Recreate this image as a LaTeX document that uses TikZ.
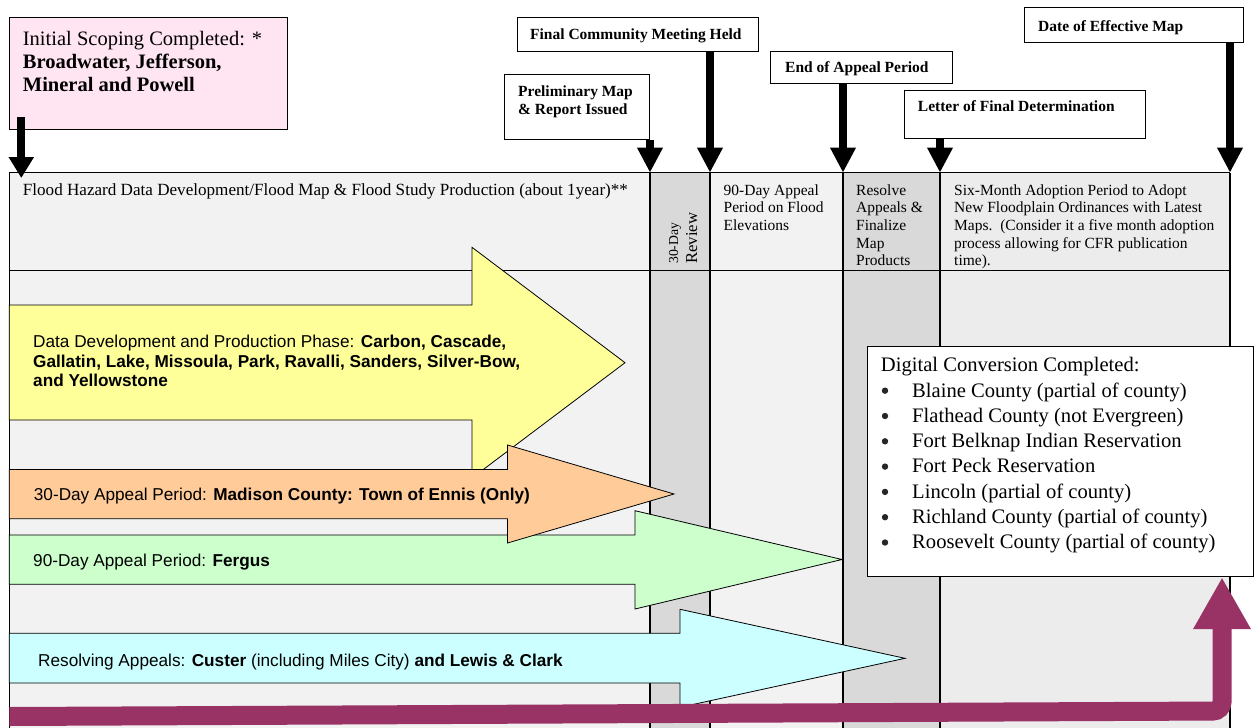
\documentclass[tikz,border=0pt]{standalone}
\usepackage{fontspec}
\setmainfont{Liberation Serif}
\setsansfont{Liberation Sans}
\usetikzlibrary{arrows.meta}
\definecolor{cellA}{HTML}{F2F2F2}
\definecolor{cellB}{HTML}{D9D9D9}
\definecolor{cellC}{HTML}{ECECEC}
\definecolor{pinkbg}{HTML}{FFE5F2}
\definecolor{yel}{HTML}{FFFF99}
\definecolor{ora}{HTML}{FFCC99}
\definecolor{gre}{HTML}{CCFFCC}
\definecolor{cya}{HTML}{CCFFFF}
\definecolor{plum}{HTML}{993366}
\newcommand\hsz{\fontsize{15.5pt}{17.7pt}\selectfont}
\newcommand\lbz{\fontsize{15.5pt}{18pt}\selectfont\bfseries}
\newcommand\pkz{\fontsize{20.5pt}{23.3pt}\selectfont}
\newcommand\dcz{\fontsize{20.6pt}{25.3pt}\selectfont}
\newcommand\arz{\sffamily\fontsize{17.2pt}{19.7pt}\selectfont}
\newcommand\mlines[1]{\vtop{\halign{##\hfil\cr#1\crcr}}}
\newcommand\bul{\hspace*{31.3pt}}
\tikzset{
  lblbox/.style={draw=black, fill=white, line width=1pt, inner sep=0pt, anchor=north west},
  lbltxt/.style={inner sep=0pt, anchor=base west},
  bigarrow/.style={line width=8pt, -{Triangle[length=25pt,width=24pt]}},
  gridline/.style={line width=1.2pt},
  blockarrow/.style={draw=black, line width=0.8pt, line join=miter},
  purparrow/.style={draw=plum, line width=19pt, rounded corners=9pt, -{Triangle[length=52pt,width=54pt]}}
}
\begin{document}
\begin{tikzpicture}[x=1pt,y=-1pt]
\useasboundingbox (0,0) rectangle (1258,728);
% column tops
\coordinate (c9) at (9.3,172.7);
\coordinate (c650) at (650,172.7);
\coordinate (c710) at (710,172.7);
\coordinate (c843) at (843,172.7);
\coordinate (c940) at (940,172.7);
\coordinate (c1230) at (1230,172.7);
% cells
\fill[cellA] (9.3,172.7) rectangle (650,728);
\fill[cellB] (650,172.7) rectangle (710,728);
\fill[cellA] (710,172.7) rectangle (843,728);
\fill[cellB] (843,172.7) rectangle (940,728);
\fill[cellC] (940,172.7) rectangle (1230,728);
\draw[gridline] (9.3,172.7) -- (1230,172.7);
\draw[gridline] (9.3,270.7) -- (1230,270.7);
\foreach \cx in {9.3,650,710,843,940,1230} \draw[gridline] (\cx,172.7) -- (\cx,728);
% header texts
\node[lbltxt] (hFlood) at (22.7,195) {\fontsize{17.1pt}{19pt}\selectfont Flood Hazard Data Development/Flood Map \& Flood Study Production (about 1year)**};
\node[lbltxt, rotate=90] (h30a) at (678,264) {\fontsize{13.7pt}{15pt}\selectfont 30-Day};
\node[lbltxt, rotate=90] (h30b) at (697,264) {\fontsize{16.7pt}{18pt}\selectfont Review};
\node[lbltxt] (h90) at (723.5,195) {\hsz\mlines{90-Day Appeal\cr Period on Flood\cr Elevations}};
\node[lbltxt] (hRes) at (856,195) {\hsz\mlines{Resolve\cr Appeals \&\cr Finalize\cr Map\cr Products}};
\begin{scope}
\clip (940,172.7) rectangle (1230,268.8);
\node[lbltxt] (hSix) at (954,195) {\hsz\mlines{Six-Month Adoption Period to Adopt\cr New Floodplain Ordinances with Latest\cr Maps.\ \ (Consider it a five month adoption\cr process allowing for CFR publication\cr time).}};
\end{scope}
% pink box
\node[lblbox, fill=pinkbg, minimum width=278pt, minimum height=112.3pt] (pink) at (9.3,17) {};
\node[lbltxt] (pinkT) at (22.7,45) {\pkz\mlines{Initial Scoping Completed: *\cr \textbf{Broadwater, Jefferson,}\cr \textbf{Mineral and Powell}}};
% milestone boxes
\node[lblbox, minimum width=241.6pt, minimum height=33.4pt] (fcm) at (516.7,17.3) {};
\node[lbltxt] (fcmT) at (530,39.3) {\lbz Final Community Meeting Held};
\node[lblbox, minimum width=145pt, minimum height=65.3pt] (pmr) at (504.3,74) {};
\node[lbltxt] (pmrT) at (518,96) {\lbz\mlines{Preliminary Map\cr \& Report Issued}};
\node[lblbox, minimum width=181.7pt, minimum height=32pt] (eap) at (770,50.7) {};
\node[lbltxt] (eapT) at (785,72.7) {\lbz End of Appeal Period};
\node[lblbox, minimum width=241pt, minimum height=48.3pt] (lfd) at (904,90) {};
\node[lbltxt] (lfdT) at (917.7,111) {\lbz Letter of Final Determination};
\node[lblbox, minimum width=218.7pt, minimum height=34.4pt] (dem) at (1024,7.3) {};
\node[lbltxt] (demT) at (1038,31.7) {\lbz Date of Effective Map};
% milestone arrows
\coordinate (pinktip) at (21.3,178);
\draw[line width=8pt, -{Triangle[length=21pt,width=24pt]}] ([xshift=12pt,yshift=13pt]pink.south west) -- (pinktip);
\draw[bigarrow] (pmr.south -| c650) -- (c650);
\draw[bigarrow] (fcm.south -| c710) -- (c710);
\draw[bigarrow] (eap.south -| c843) -- (c843);
\draw[bigarrow] (lfd.south -| c940) -- (c940);
\draw[bigarrow] (dem.south -| c1230) -- (c1230);
% block arrows
\draw[blockarrow, fill=yel] (9.3,305) -- (472,305) -- (472,247.3) -- (625,362.7) -- (472,478) -- (472,420) -- (9.3,420) -- cycle;
\node[lbltxt] (yelT) at (33,347.3) {\arz\mlines{Data Development and Production Phase: \textbf{Carbon, Cascade,}\cr \textbf{Gallatin, Lake, Missoula, Park, Ravalli, Sanders, Silver-Bow,}\cr \textbf{and Yellowstone}}};
\draw[blockarrow, fill=gre] (9.3,535) -- (635,535) -- (635,510.7) -- (842,559.5) -- (635,609) -- (635,584.3) -- (9.3,584.3) -- cycle;
\node[lbltxt] (greT) at (33,566.5) {\arz 90-Day Appeal Period: \textbf{Fergus}};
\draw[blockarrow, fill=cya] (9.3,633.3) -- (680,633.3) -- (680,609.3) -- (905,658.3) -- (680,707.3) -- (680,683) -- (9.3,683) -- cycle;
\node[lbltxt] (cyaT) at (38,666) {\arz Resolving Appeals: \textbf{Custer} (including Miles City) \textbf{and Lewis \& Clark}};
\draw[blockarrow, fill=ora] (9.3,469.5) -- (507.5,469.5) -- (507.5,445) -- (674,494) -- (507.5,543) -- (507.5,518.7) -- (9.3,518.7) -- cycle;
\node[lbltxt] (oraT) at (33.7,500.7) {\arz 30-Day Appeal Period: \textbf{Madison County: Town of Ennis (Only)}};
% digital conversion box
\node[lblbox, line width=1.2pt, minimum width=386pt, minimum height=230pt] (dc) at (867,346) {};
\node[lbltxt] (dcT) at (880.7,371.7) {\dcz\mlines{Digital Conversion Completed:\cr
\bul Blaine County (partial of county)\cr
\bul Flathead County (not Evergreen)\cr
\bul Fort Belknap Indian Reservation\cr
\bul Fort Peck Reservation\cr
\bul Lincoln (partial of county)\cr
\bul Richland County (partial of county)\cr
\bul Roosevelt County (partial of county)}};
\foreach \k in {0,...,6} \fill[black!85] (885,{390.7+25.3*\k}) circle (3.2pt);
% purple arrow
\coordinate (pst) at (9.3,716.5);
\coordinate (pcorner) at (1222,711);
\draw[purparrow] (pst) -- (pcorner) -- (dc.south -| pcorner);
\end{tikzpicture}
\end{document}
